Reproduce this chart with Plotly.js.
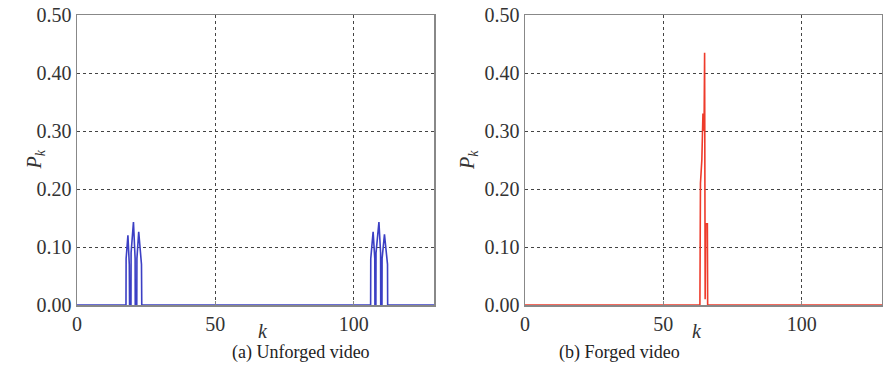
<!DOCTYPE html>
<html>
<head>
<meta charset="utf-8">
<script src="https://cdn.plot.ly/plotly-3.0.1.min.js"></script>
<style>html,body{margin:0;padding:0;background:#fff;}#chart{width:883px;height:374px;}</style>
</head>
<body>
<div id="chart"></div>
<script>
// Panel (a): Unforged video
const kUnforged = [0, 17.7, 17.75, 18.4, 18.9, 19.0, 19.5, 19.55, 20.4, 21.0, 21.05, 21.6, 21.65, 22.3, 23.3, 23.4,
                   106.1, 106.15, 107.0, 107.6, 107.65, 108.0, 108.05, 109.1, 109.7, 109.75, 110.2, 110.25, 111.1, 112.2, 112.25, 129];
const pUnforged = [0, 0, 0.08, 0.12, 0.07, 0, 0, 0.09, 0.143, 0.08, 0, 0, 0.08, 0.126, 0.07, 0,
                   0, 0.08, 0.126, 0.08, 0, 0, 0.09, 0.143, 0.09, 0, 0, 0.08, 0.122, 0.07, 0, 0];
// Panel (b): Forged video
const kForged = [0, 63.2, 63.4, 63.9, 64.3, 64.7, 64.9, 65.1, 65.3, 65.9, 66.0, 129];
const pForged = [0, 0, 0.21, 0.25, 0.33, 0.30, 0.435, 0.01, 0.14, 0.14, 0, 0];

const xTicks = [0, 50, 100];
const yTicks = [0, 0.1, 0.2, 0.3, 0.4, 0.5];
const captions = ["(a) Unforged video", "(b) Forged video"];

const serif = "Times New Roman";
const tickFont = {family: serif, size: 20, color: "#333"};

function xAx(domain, anchor) {
  return {domain: domain, anchor: anchor, range: [0, 129], tickvals: xTicks, ticktext: xTicks.map(String),
    showgrid: true, gridcolor: "#444", griddash: "dot", gridwidth: 1,
    showline: true, linecolor: "#888", linewidth: 1.5, mirror: true, zeroline: false,
    ticks: "inside", ticklen: 4, tickcolor: "#888", tickwidth: 1, tickfont: tickFont};
}
function yAx(anchor) {
  return {domain: [0, 1], anchor: anchor, range: [0, 0.5], tickvals: yTicks,
    ticktext: yTicks.map(v => v.toFixed(2)),
    showgrid: true, gridcolor: "#444", griddash: "dot", gridwidth: 1,
    showline: true, linecolor: "#888", linewidth: 1.5, mirror: true, zeroline: false,
    ticks: "", tickfont: tickFont};
}

const traces = [
  {x: kUnforged, y: pUnforged, type: "scatter", mode: "lines", line: {color: "#3b3fc4", width: 1.6}, xaxis: "x", yaxis: "y", hoverinfo: "skip"},
  {x: kForged, y: pForged, type: "scatter", mode: "lines", line: {color: "#ee3b2b", width: 1.6}, xaxis: "x2", yaxis: "y2", hoverinfo: "skip"}
];

const W = 883, PH = 290;
const yp = (px) => -(px - 305) / PH;
const layout = {
  width: 883, height: 374,
  margin: {l: 0, r: 0, t: 15, b: 69},
  font: {family: serif, size: 19, color: "#333"},
  paper_bgcolor: "#fff", plot_bgcolor: "#fff",
  showlegend: false,
  xaxis: xAx([77 / W, 434 / W], "y"),
  yaxis: yAx("x"),
  xaxis2: xAx([525 / W, 882 / W], "y2"),
  yaxis2: yAx("x2"),
  annotations: [
    {text: "<i>k</i>", xref: "paper", yref: "paper", x: 255.5 / W, y: yp(331), yanchor: "middle", showarrow: false, font: {family: serif, size: 20, color: "#333"}},
    {text: "<i>k</i>", xref: "paper", yref: "paper", x: 703.5 / W, y: yp(331), yanchor: "middle", showarrow: false, font: {family: serif, size: 20, color: "#333"}},
    {text: "<i>P<sub>k</sub></i>", xref: "paper", yref: "paper", x: 20 / W, y: 0.5, showarrow: false, textangle: -90, font: {family: serif, size: 20, color: "#333"}},
    {text: "<i>P<sub>k</sub></i>", xref: "paper", yref: "paper", x: 468 / W, y: 0.5, showarrow: false, textangle: -90, font: {family: serif, size: 20, color: "#333"}},
    {text: captions[0], xref: "paper", yref: "paper", x: 230 / W, y: yp(353), yanchor: "middle", showarrow: false, font: {family: serif, size: 18, color: "#222"}},
    {text: captions[1], xref: "paper", yref: "paper", x: 682 / W, y: yp(353), yanchor: "middle", showarrow: false, font: {family: serif, size: 18, color: "#222"}}
  ]
};

Plotly.newPlot("chart", traces, layout, {displayModeBar: false, staticPlot: true});
</script>
</body>
</html>
